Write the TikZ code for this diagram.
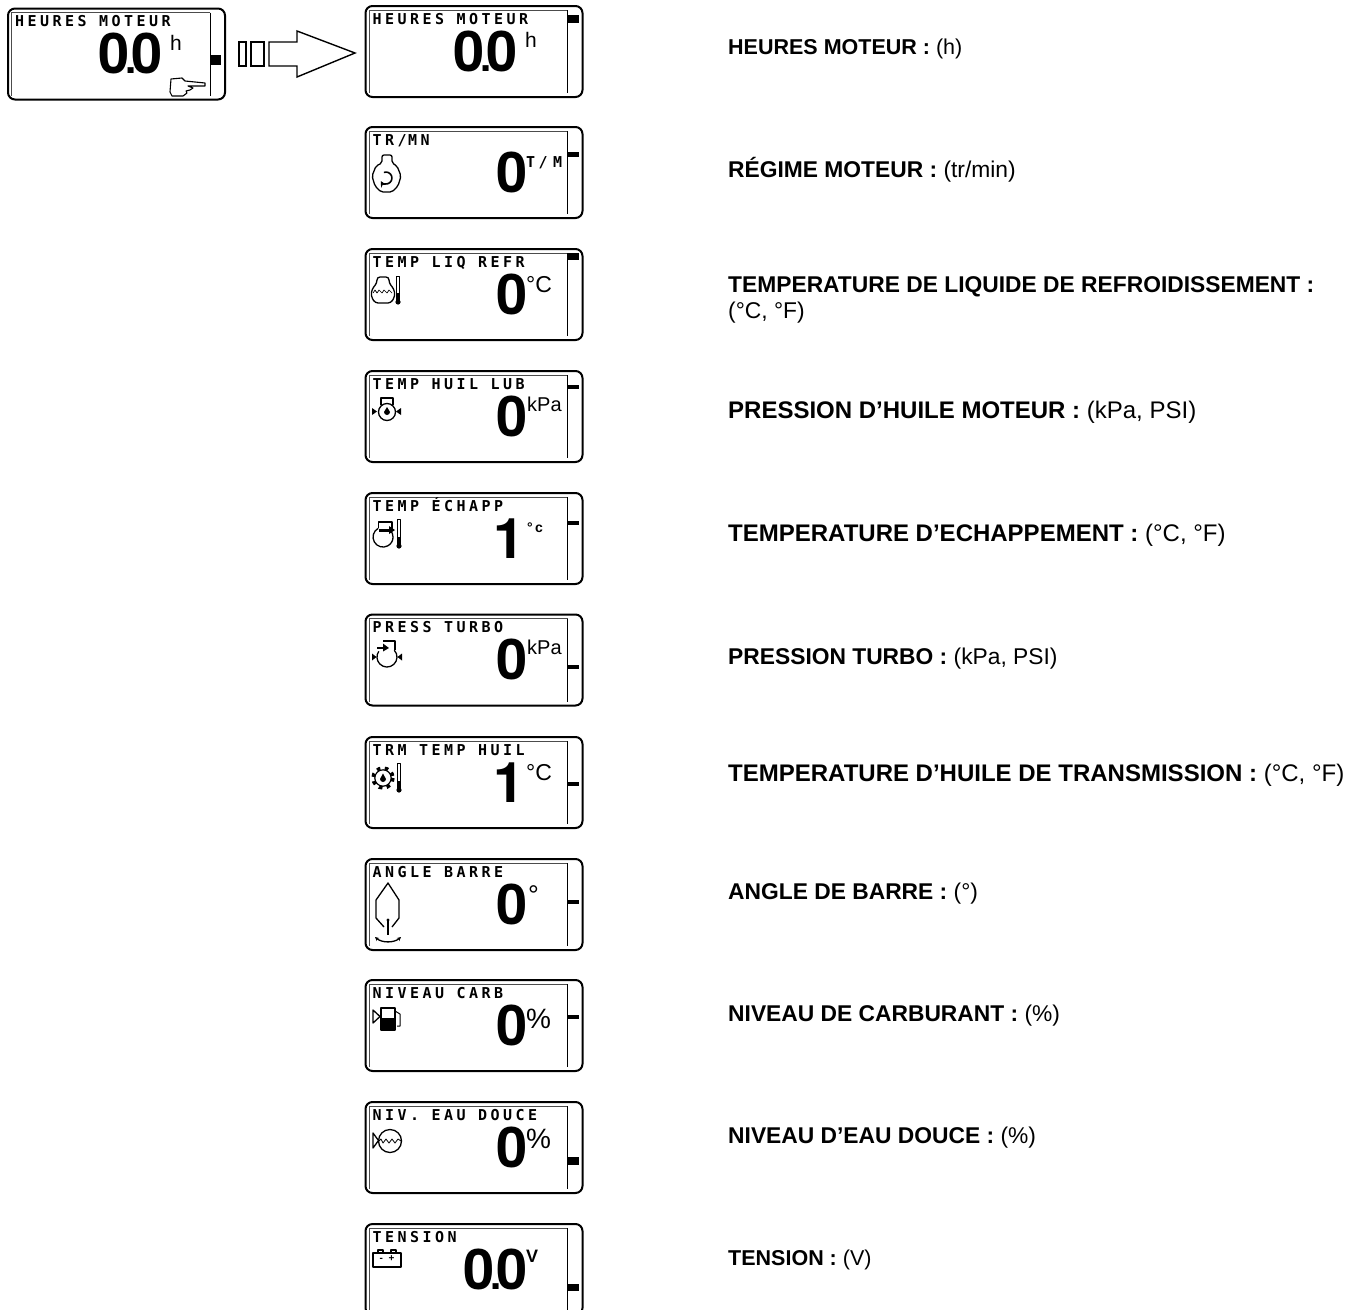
\documentclass[tikz,border=0pt]{standalone}
\usepackage{fontspec}
\setmainfont{Liberation Sans}
\newfontfamily\lcdfont{DejaVu Sans Mono}[LetterSpace=23]
\newfontfamily\digitfont{TeX Gyre Heros}
\usetikzlibrary{positioning,arrows.meta}

\tikzset{
  lcdframe/.style={draw=black, line width=2, rounded corners=7, minimum width=217, minimum height=91, inner sep=0},
  lcdinner/.style={black!70, line width=0.6},
  lcdtitle/.style={anchor=base west, inner sep=0, font=\lcdfont\bfseries\fontsize{15}{15}\selectfont},
  lcdvalue/.style={anchor=base east, inner sep=0, font=\digitfont\bfseries\fontsize{56}{56}\selectfont},
  lcdunit/.style={anchor=base west, inner sep=0, font=\fontsize{20}{20}\selectfont},
  lcdicon/.style={line width=1.3, line join=round},
  caption/.style={anchor=base west, inner sep=0, align=left, font=\fontsize{22.8}{26}\selectfont},
  captionwide/.style={caption, font=\fontsize{24}{26}\selectfont},
  captionshort/.style={caption, font=\fontsize{21.5}{26}\selectfont},
}

% #1 name, #2 left, #3 top, #4 title, #5 value, #6 value right edge, #7 marker y, #8 marker height
\newcommand{\lcdpanel}[8]{
  \node[lcdframe, anchor=north west] (#1) at (#2,#3) {};
  \draw[lcdinner] (#2+203,#3+5) -- (#2+4.5,#3+5) -- (#2+4.5,#3+88);
  \draw[black, line width=0.7] (#2+203,#3+5) -- (#2+203,#3+88);
  \fill[black] (#2+203,#7-#8/2) rectangle (#2+214,#7+#8/2);
  \node[lcdtitle] (#1-title) at (#2+8,#3+19) {#4};
  \node[lcdvalue] (#1-value) at (#2+#6,#3+66) {#5};
}
\newcommand{\thermo}[3]{
  \draw[line width=0.8] (#1-1.7,#2) rectangle (#1+1.7,#3);
  \fill[black] (#1-1.7,#3-9) rectangle (#1+1.7,#3);
  \fill[black] (#1,#3) circle (2.6);
}
\newcommand{\zerodot}{0\kern-5pt{\fontsize{40}{40}\selectfont.}\kern-5pt0}

\begin{document}
\begin{tikzpicture}[x=1pt, y=-1pt]
  \useasboundingbox (0,0) rectangle (1359,1309);
  \clip (0,0) rectangle (1359,1309);

  % start screen and the arrow
  \lcdpanel{start}{7}{7.5}{HEURES MOTEUR}{\zerodot}{155.5}{60}{10}
  \node[lcdunit, font=\fontsize{21}{21}\selectfont] (start-unit) at (170,50) {h};
  \draw[black, line width=1.4] (239,42) rectangle (246,66);
  \draw[black, line width=1.4] (251,42) rectangle (264,66);
  \draw[black, line width=1.4] (269,42) -- (297,42) -- (297,31) -- (355,53) -- (297,77) -- (297,66) -- (269,66) -- cycle;
  % pointing hand
  \draw[lcdicon, line width=1.1] (171,79) -- (182,78) -- (185,81) -- (205,83) -- (205,86) -- (188,86) -- (193,88) -- (190,90) -- (186,91) -- (187,93) -- (183,96) -- (172,96) -- (170,92) -- cycle;

  % screens
  \lcdpanel{hours}{364.5}{5}{HEURES MOTEUR}{\zerodot}{153}{19}{8}
  \node[lcdunit, font=\fontsize{21}{21}\selectfont] (hours-unit) at (525,47) {h};

  \lcdpanel{rpm}{364.5}{126}{TR/ \kern-11pt MN}{0}{163}{154.5}{4.5}
  \node[lcdunit, lcdtitle] (rpm-unit) at (526,167) {T/ \kern-7pt M};
  \begin{scope}[shift={(364,126)}, lcdicon]
    \draw[rounded corners=2] (18,29) -- (28,29) -- (28,37) -- (33,40) -- (37,50) -- (34,60) -- (28,66) -- (17,66) -- (11,60) -- (8,50) -- (12,40) -- (18,37) -- cycle;
    \draw[-{Stealth[length=6pt,width=6pt]}, line width=1.6] (19.9,46.4) arc[start angle=-110, end angle=150, radius=6];
  \end{scope}

  \lcdpanel{coolant}{364.5}{248}{TEMP LIQ REFR}{0}{163}{256}{7}
  \node[lcdunit, font=\fontsize{23}{23}\selectfont] (coolant-unit) at (526,292) {°C};
  \begin{scope}[shift={(364,248)}, lcdicon]
    \draw[rounded corners=3] (13,29) -- (25,29) -- (25,35) -- (30,41) -- (31,48) -- (27,55) -- (11,55) -- (7,48) -- (8,41) -- (13,35) -- cycle;
    \draw[line width=0.7] (9,45) -- (11,42) -- (13,45) -- (15,42) -- (18,45) -- (20,42) -- (23,45) -- (25,42) -- (28,45);
    \thermo{34}{28}{54}
  \end{scope}

  \lcdpanel{oilpress}{364.5}{370}{TEMP HUIL LUB}{0}{163}{387}{4}
  \node[lcdunit] (oilpress-unit) at (527,411) {kPa};
  \begin{scope}[shift={(364,370)}, lcdicon]
    \draw (17,35) -- (17,28) -- (29,28) -- (29,35);
    \draw (23,42) circle (8.5);
    \fill[black] (23,37) -- (26,42) arc[start angle=0, end angle=180, radius=3] -- cycle;
    \fill[black] (8,38) -- (13,41.5) -- (8,45) -- cycle;
    \fill[black] (37,38) -- (32,41.5) -- (37,45) -- cycle;
  \end{scope}

  \lcdpanel{exhaust}{364.5}{492}{TEMP ÉCHAPP}{1}{160}{523}{4}
  \node[lcdunit, font=\bfseries\fontsize{14}{14}\selectfont] (exhaust-unit) at (527,532) {°\,c};
  \begin{scope}[shift={(364,492)}, lcdicon]
    \draw (14.2,36.3) -- (14.2,30) -- (28,30) -- (28,37);
    \draw (14.2,36.3) arc[start angle=241, end angle=-45, radius=10];
    \fill[black] (15,36.5) rectangle (26,39.5);
    \fill[black] (25,34) -- (31,38) -- (25,42) -- cycle;
    \thermo{35}{27}{54}
  \end{scope}

  \lcdpanel{turbo}{364.5}{613.5}{PRESS TURBO}{0}{163}{667}{4}
  \node[lcdunit] (turbo-unit) at (527,654) {kPa};
  \begin{scope}[shift={(364,613.5)}, lcdicon]
    \draw (19,27.5) -- (31,27.5) -- (31,36.7);
    \draw (30.3,36.7) arc[start angle=-43, end angle=215, radius=10];
    \fill[black] (13,33) rectangle (20,35.5);
    \fill[black] (19,30) -- (25,34.5) -- (19,38) -- cycle;
    \fill[black] (8,40) -- (12.5,43.5) -- (8,47) -- cycle;
    \fill[black] (38,40) -- (33.5,43.5) -- (38,47) -- cycle;
  \end{scope}

  \lcdpanel{transoil}{364.5}{736}{TRM TEMP HUIL}{1}{160}{784}{4}
  \node[lcdunit, font=\fontsize{23}{23}\selectfont] (transoil-unit) at (526,780) {°C};
  \begin{scope}[shift={(364,736)}, lcdicon]
    \draw[line width=3.4, dash pattern=on 3.6 off 4.5] (19,42) circle (10);
    \draw[line width=1.2] (19,42) circle (8.2);
    \fill[black] (19,37.5) -- (22,43) arc[start angle=0, end angle=180, radius=3] -- cycle;
    \thermo{35}{27}{54}
  \end{scope}

  \lcdpanel{rudder}{364.5}{858}{ANGLE BARRE}{0}{163}{902}{4}
  \node[lcdunit, font=\fontsize{27}{27}\selectfont] (rudder-unit) at (528,904) {°};
  \begin{scope}[shift={(364,858)}, lcdicon]
    \draw (12,42) -- (24,25) -- (35,42) -- (35,60) -- (28,69);
    \draw (12,42) -- (12,60) -- (20,69);
    \draw (24,62) -- (24,77);
    \fill[black] (24,62) circle (1.6);
    \draw[{Stealth[length=4pt,width=4pt]}-{Stealth[length=4pt,width=4pt]}] (11,79) .. controls (18,85) and (30,85) .. (37,79);
  \end{scope}

  \lcdpanel{fuel}{364.5}{979}{NIVEAU CARB}{0}{163}{1017}{4}
  \node[lcdunit, font=\fontsize{28}{28}\selectfont] (fuel-unit) at (526,1028) {\%};
  \begin{scope}[shift={(364,979)}, lcdicon]
    \draw (9,31) -- (16,37.5) -- (9,44) -- cycle;
    \draw (17,29) rectangle (31,51);
    \fill[black] (17,39) rectangle (31,51);
    \draw[line width=1] (31,32) -- (36,35) -- (36,47) -- (33,47);
  \end{scope}

  \lcdpanel{water}{364.5}{1101}{NIV. EAU DOUCE}{0}{163}{1161}{8}
  \node[lcdunit, font=\fontsize{28}{28}\selectfont] (water-unit) at (526,1148) {\%};
  \begin{scope}[shift={(364,1101)}, lcdicon]
    \draw (9,32) -- (14.5,39.5) -- (9,47) -- cycle;
    \draw (26,40) circle (11.5);
    \draw[line width=0.8] (15,40) -- (17,38) -- (19,42) -- (22,38) -- (25,42) -- (28,38) -- (31,42) -- (34,38) -- (37,40);
  \end{scope}

  \lcdpanel{volt}{364.5}{1223}{TENSION}{\zerodot}{163}{1287}{7}
  \node[lcdunit, font=\bfseries\fontsize{18}{18}\selectfont] (volt-unit) at (526,1262) {V};
  \begin{scope}[shift={(364,1223)}, lcdicon]
    \draw (9,30) rectangle (37,44);
    \draw (14,30) -- (14,27) -- (19,27) -- (19,30);
    \draw (27,30) -- (27,27) -- (32,27) -- (32,30);
    \node[inner sep=0, font=\bfseries\fontsize{10}{10}\selectfont] (volt-poles) at (23,36) {- \kern3pt+};
  \end{scope}

  % captions
  \node[captionshort] (c1) at (728,54) {\textbf{HEURES MOTEUR :} (h)};
  \node[caption] (c2) at (728,177) {\textbf{RÉGIME MOTEUR :} (tr/min)};
  \node[caption, anchor=north west] (c3) at (728,276) {\textbf{TEMPERATURE DE LIQUIDE DE REFROIDISSEMENT :}\\(°C, °F)};
  \node[captionwide] (c4) at (728,418) {\textbf{PRESSION D’HUILE MOTEUR :} (kPa, PSI)};
  \node[captionwide] (c5) at (728,541) {\textbf{TEMPERATURE D’ECHAPPEMENT :} (°C, °F)};
  \node[caption] (c6) at (728,664) {\textbf{PRESSION TURBO :} (kPa, PSI)};
  \node[captionwide] (c7) at (728,781) {\textbf{TEMPERATURE D’HUILE DE TRANSMISSION :} (°C, °F)};
  \node[caption] (c8) at (728,899) {\textbf{ANGLE DE BARRE :} (°)};
  \node[caption] (c9) at (728,1021) {\textbf{NIVEAU DE CARBURANT :} (\%)};
  \node[caption] (c10) at (728,1143) {\textbf{NIVEAU D’EAU DOUCE :} (\%)};
  \node[captionshort] (c11) at (728,1265) {\textbf{TENSION :} (V)};
\end{tikzpicture}
\end{document}
